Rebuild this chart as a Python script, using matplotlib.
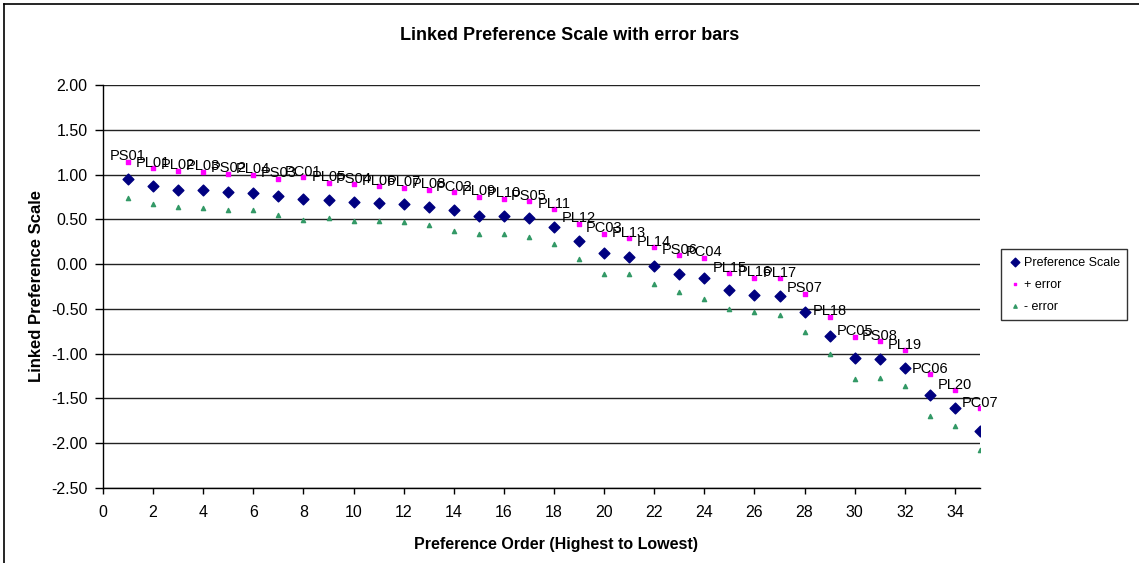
import matplotlib
matplotlib.use("Agg")
import matplotlib.pyplot as plt
from matplotlib.lines import Line2D
import numpy as np

plt.rcParams['font.family'] = ['Liberation Sans', 'DejaVu Sans']

# preference order 1..35 with item labels
order = list(range(1, 36))
labels = ["PS01", "PL01", "PL02", "PL03", "PS02", "PL04", "PS03", "PC01", "PL05", "PS04",
          "PL06", "PL07", "PL08", "PC02", "PL09", "PL10", "PS05", "PL11", "PL12", "PC03",
          "PL13", "PL14", "PS06", "PC04", "PL15", "PL16", "PL17", "PS07", "PL18", "PC05",
          "PS08", "PL19", "PC06", "PL20", "PC07"]
pref_scale = [0.95, 0.87, 0.83, 0.83, 0.80, 0.79, 0.76, 0.73, 0.715, 0.69,
              0.68, 0.67, 0.64, 0.60, 0.535, 0.54, 0.51, 0.41, 0.255, 0.12,
              0.08, -0.02, -0.115, -0.15, -0.29, -0.35, -0.36, -0.54, -0.80, -1.05,
              -1.06, -1.165, -1.46, -1.61, -1.86]
plus_err = [1.14, 1.07, 1.04, 1.03, 1.01, 1.00, 0.95, 0.97, 0.91, 0.89,
            0.87, 0.85, 0.83, 0.80, 0.75, 0.73, 0.70, 0.61, 0.45, 0.34,
            0.29, 0.19, 0.10, 0.07, -0.10, -0.15, -0.16, -0.33, -0.59, -0.81,
            -0.86, -0.96, -1.23, -1.41, -1.61]
minus_err = [0.74, 0.667, 0.64, 0.63, 0.60, 0.60, 0.55, 0.495, 0.51, 0.48,
             0.48, 0.47, 0.44, 0.37, 0.34, 0.34, 0.30, 0.22, 0.06, -0.11,
             -0.11, -0.22, -0.31, -0.39, -0.50, -0.54, -0.57, -0.76, -1.00, -1.28,
             -1.27, -1.36, -1.70, -1.81, -2.08]

W, H = 1139, 563
fig = plt.figure(figsize=(W / 100, H / 100), dpi=100)
ax = fig.add_axes([103 / W, 1 - 488 / H, (980 - 103) / W, (488 - 85) / H])

# horizontal gridlines
for gy in np.arange(-2.5, 2.01, 0.5):
    ax.axhline(gy, color="#222222", lw=1.0, zorder=1)

ax.scatter(order, pref_scale, marker="D", s=30, color="#000080", zorder=3,
           label="Preference Scale")
ax.scatter(order, plus_err, marker="s", s=5, color="#FF00FF", zorder=3,
           label="+ error")
ax.scatter(order, minus_err, marker="^", s=9, color="#339966", zorder=3,
           label="- error")

for xi, yi, lab in zip(order, plus_err, labels):
    ax.annotate(lab, (xi, yi), xytext=(0, 4), textcoords="offset points",
                ha="center", va="center", fontsize=10.5, zorder=4)

ax.set_xlim(0, 35)
ax.set_ylim(-2.5, 2.0)
ax.set_xticks(range(0, 35, 2))
ax.set_yticks(np.arange(-2.5, 2.01, 0.5))
ax.set_yticklabels(["%.2f" % v for v in np.arange(-2.5, 2.01, 0.5)])
ax.tick_params(labelsize=11.5, direction="out", width=1, color="black")
ax.tick_params(axis="y", length=6, pad=5)
ax.tick_params(axis="x", length=4, pad=8)
for side in ["top", "right"]:
    ax.spines[side].set_visible(False)
for side in ["left", "bottom"]:
    ax.spines[side].set_linewidth(1.0)
    ax.spines[side].set_zorder(2)

ax.set_xlabel("Preference Order (Highest to Lowest)", fontsize=11.5, fontweight="bold")
ax.xaxis.set_label_coords((556 - 103) / (980 - 103), -(545 - 488) / (488 - 85))
ax.xaxis.label.set_va("center")
ax.set_ylabel("Linked Preference Scale", fontsize=12, fontweight="bold", labelpad=5)
fig.text(570 / W, 1 - 36 / H, "Linked Preference Scale with error bars",
         ha="center", va="center", fontsize=13, fontweight="bold")

leg = fig.legend(loc="upper left", bbox_to_anchor=(995 / W, 1 - 243 / H),
                 fontsize=9, frameon=True, fancybox=False, markerscale=0.8,
                 handletextpad=0.2, handlelength=1.0, borderpad=0.6, labelspacing=0.8)
leg.get_frame().set_edgecolor("black")
leg.get_frame().set_linewidth(1.0)

# chart area border (top and left visible)
fig.add_artist(Line2D([4 / W, 1], [1 - 4 / H, 1 - 4 / H], color="black", lw=1.2,
                      transform=fig.transFigure))
fig.add_artist(Line2D([4 / W, 4 / W], [0, 1 - 4 / H], color="black", lw=1.2,
                      transform=fig.transFigure))

fig.savefig("out.png", dpi=100, facecolor="white")
